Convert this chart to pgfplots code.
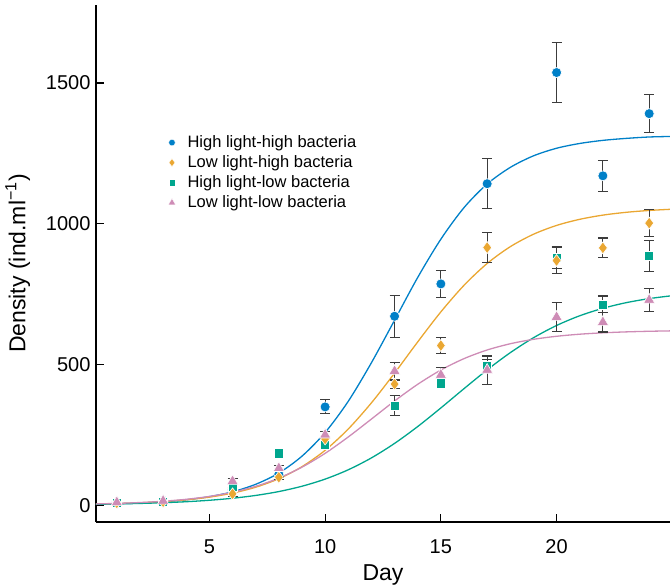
\documentclass[border=0pt]{standalone}
\usepackage{fontspec}
\setmainfont{Liberation Sans}
\usepackage{pgfplots}
\pgfplotsset{compat=1.18}

\definecolor{cblue}{RGB}{0,128,200}
\definecolor{corange}{RGB}{234,167,50}
\definecolor{cgreen}{RGB}{0,166,142}
\definecolor{cpink}{RGB}{206,140,182}
\definecolor{ebar}{RGB}{60,60,60}

\pgfplotsset{
  pts/.style={only marks, color=#1, forget plot,
    mark options={draw=white, fill=#1, line width=0.6pt},
    error bars/y dir=both, error bars/y explicit,
    error bars/error bar style={ebar, line width=1.1pt},
    error bars/error mark options={rotate=90, ebar, mark size=5pt, line width=1.1pt}},
  fit/.style={color=#1, line width=1.3pt, smooth, no marks, forget plot},
  leg/.style={only marks, color=#1, mark options={draw=white, fill=#1, line width=0.4pt}},
}

\begin{document}
\begin{tikzpicture}
\begin{axis}[
  width=574pt, height=517pt, scale only axis,
  xmin=0.1, xmax=24.9, ymin=-60, ymax=1777,
  axis x line*=bottom, axis y line*=left,
  axis line style={-, line width=1.6pt},
  xtick={5,10,15,20}, ytick={0,500,1000,1500},
  tick align=inside, major tick length=8.5pt,
  tick style={line width=1.2pt, black},
  /pgf/number format/assume math mode=true,
  /pgf/number format/1000 sep={},
  ticklabel style={font=\fontsize{20}{23}\selectfont},
  xticklabel style={yshift=-14pt},
  yticklabel style={xshift=-2pt},
  label style={font=\fontsize{23}{27}\selectfont},
  xlabel={Day}, ylabel={Density (ind.ml\textsuperscript{−1})},
  xlabel style={yshift=-4pt},
  ylabel shift=9pt,
  legend style={at={(0.12,0.755)}, anchor=north west, draw=none, fill=none,
    font=\fontsize{16.5}{19}\selectfont, row sep=2.6pt},
  legend cell align=left,
  legend image code/.code={\draw[#1] plot coordinates {(0.13cm,0cm)};
    \path (0cm,0cm) (0.6cm,0cm);},
]
\coordinate (O) at (rel axis cs:0,0);

\addlegendimage{leg=cblue, mark=*, mark size=3.3pt}
\addlegendentry{High light-high bacteria}
\addlegendimage{leg=corange, mark=diamond*, mark size=4pt}
\addlegendentry{Low light-high bacteria}
\addlegendimage{leg=cgreen, mark=square*, mark size=3.2pt}
\addlegendentry{High light-low bacteria}
\addlegendimage{leg=cpink, mark=triangle*, mark size=4.3pt}
\addlegendentry{Low light-low bacteria}

% fitted curves
\addplot[fit=cblue] coordinates {
(0,2.9) (1,4.7) (2,7.4) (3,11.8) (4,18.9) (5,30) (6,47.3) (7,74) (8,114)
(9,174) (10,258) (11,369) (12,506) (13,657) (14,809) (15,945) (16,1057)
(17,1141) (18,1200) (19,1241) (20,1268) (21,1285) (22,1296) (23,1303)
(24,1308) (25,1310)};
\addplot[fit=corange] coordinates {
(0,3.6) (1,5.4) (2,8.2) (3,12.5) (4,18.9) (5,28.4) (6,42.7) (7,63.6) (8,93.9)
(9,136.6) (10,194.8) (11,270.5) (12,363.4) (13,469) (14,580) (15,686.6)
(16,781) (17,858.6) (18,918.3) (19,962.4) (20,993.8) (21,1015.5) (22,1030.4)
(23,1040.3) (24,1047) (25,1051.4)};
\addplot[fit=cgreen] coordinates {
(0,3.0) (1,4.2) (2,6.0) (3,8.5) (4,12.1) (5,17.2) (6,24.4) (7,34.4) (8,48.2)
(9,67.1) (10,92.4) (11,125.6) (12,167.8) (13,219.3) (14,279.2) (15,345.3)
(16,413.8) (17,480.6) (18,541.7) (19,594.6) (20,638.3) (21,672.8) (22,699.3)
(23,719.2) (24,733.7) (25,744.2)};
\addplot[fit=cpink] coordinates {
(0,4.0) (1,6.1) (2,9.2) (3,13.8) (4,20.7) (5,30.9) (6,45.7) (7,66.8) (8,96)
(9,134.9) (10,184) (11,242.2) (12,305.8) (13,370) (14,429.3) (15,480)
(16,520.5) (17,551.2) (18,573.4) (19,589.1) (20,599.9) (21,607.3) (22,612.2)
(23,615.5) (24,617.7) (25,619.2)};

% observations
\addplot[pts=cblue, mark=*, mark size=5pt] coordinates {
(1,10) +- (0,3) (3,15) +- (0,3) (6,55) +- (0,8) (8,110) +- (0,10)
(10,349) +- (0,25) (13,671) +- (0,75) (15,786) +- (0,48) (17,1142) +- (0,88)
(20,1537) +- (0,106) (22,1170) +- (0,55) (24,1391) +- (0,68)};
\addplot[pts=cgreen, mark=square*, mark size=4.6pt] coordinates {
(1,8) +- (0,3) (3,12) +- (0,3) (6,65) +- (0,8) (8,184) +- (0,10)
(10,213) +- (0,10) (13,354) +- (0,35) (15,433) +- (0,15) (17,496) +- (0,20)
(20,880) +- (0,40) (22,713) +- (0,30) (24,886) +- (0,55)};
\addplot[pts=corange, mark=diamond*, mark size=6pt] coordinates {
(1,8) +- (0,3) (3,12) +- (0,3) (6,40) +- (0,8) (8,99) +- (0,8)
(10,235) +- (0,10) (13,430) +- (0,15) (15,567) +- (0,28) (17,915) +- (0,53)
(20,869) +- (0,45) (22,914) +- (0,35) (24,1002) +- (0,48)};
\addplot[pts=cpink, mark=triangle*, mark size=6.5pt] coordinates {
(1,10) +- (0,5) (3,15) +- (0,5) (6,85) +- (0,10) (8,131) +- (0,10)
(10,250) +- (0,12) (13,476) +- (0,32) (15,463) +- (0,25) (17,480) +- (0,50)
(20,668) +- (0,52) (22,650) +- (0,35) (24,729) +- (0,40)};
\end{axis}
\pgfresetboundingbox
\path (O) ++(-96pt,-65pt) rectangle ++(670pt,587pt);
\end{tikzpicture}
\end{document}
